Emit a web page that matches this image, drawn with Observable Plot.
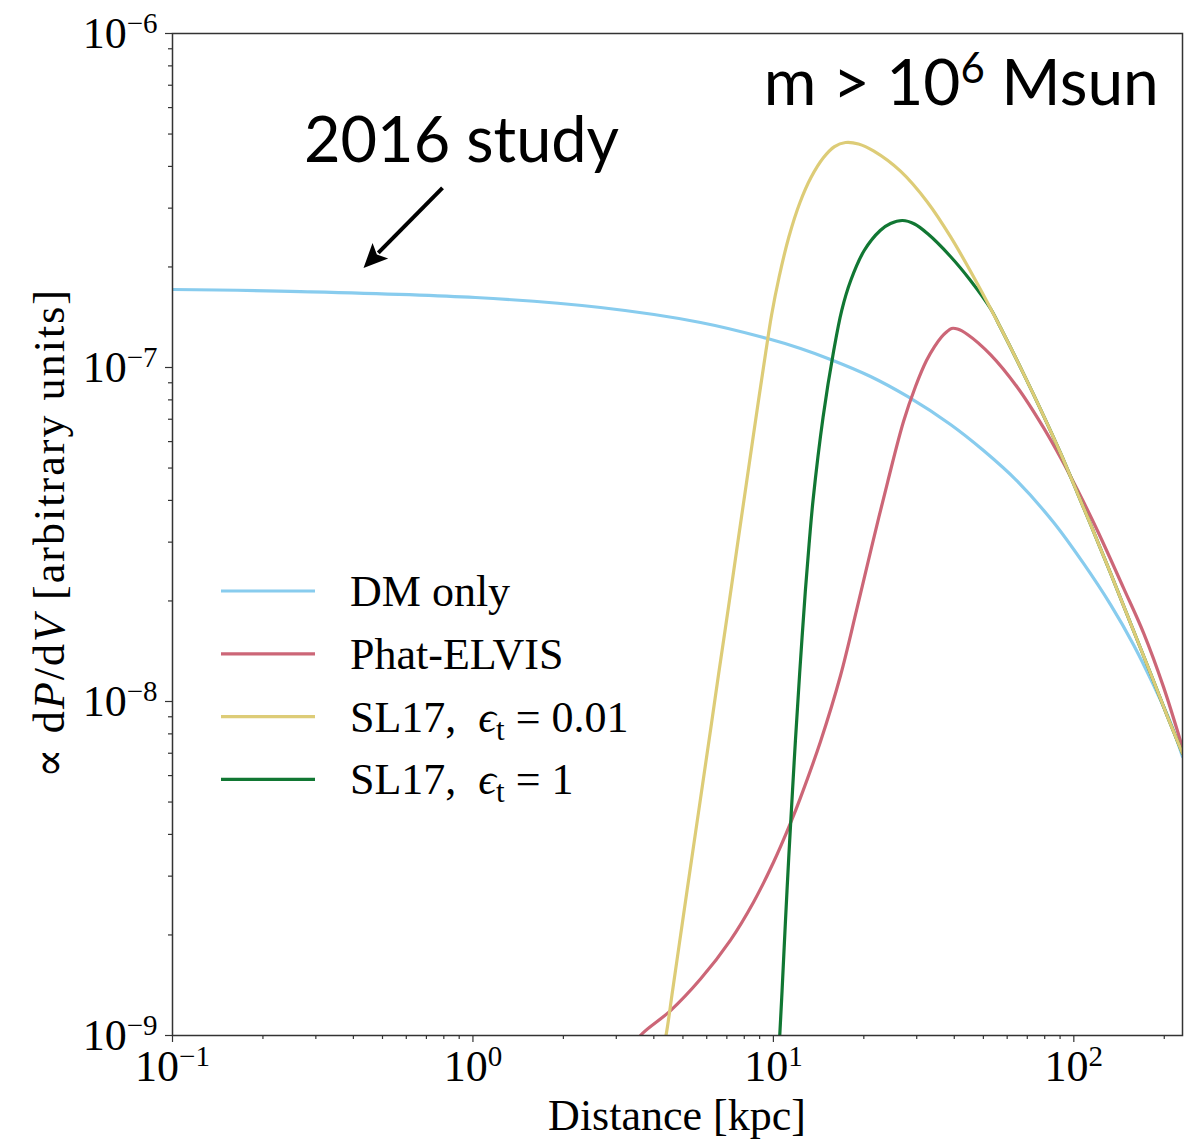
<!DOCTYPE html>
<html><head><meta charset="utf-8">
<script src="https://cdn.jsdelivr.net/npm/d3@7"></script>
<script src="https://cdn.jsdelivr.net/npm/@observablehq/plot@0.6"></script>
<style>
html,body{margin:0;padding:0;background:#fff;}
#chart{width:1201px;height:1143px;}
</style></head>
<body><div id="chart"></div>
<script>
// ---------- data ----------
const seriesNames = ["DM only", "Phat-ELVIS", "SL17, eps_t = 0.01", "SL17, eps_t = 1"];
const seriesColors = ["#88CCEE", "#CC6677", "#DDCC77", "#117733"];

const dmDist = [0.1, 0.2667, 1.020, 2.659, 5.720, 9.559, 12.31, 15.49, 21.06, 27.95, 38.86, 50.06, 64.93, 85.56, 107.7, 132.5, 158.0, 184.2, 209.8, 230];
const dmVal  = [1.712e-7, 1.688e-7, 1.620e-7, 1.512e-7, 1.364e-7, 1.221e-7, 1.140e-7, 1.057e-7, 9.40e-8, 8.19e-8, 6.75e-8, 5.64e-8, 4.56e-8, 3.44e-8, 2.59e-8, 1.95e-8, 1.48e-8, 1.12e-8, 8.65e-9, 6.84e-9];

const phatDist = [3.476, 3.612, 4.546, 5.720, 7.200, 8.587, 10.01, 11.40, 12.31, 14.35, 16.73, 18.91, 21.21, 23.98, 27.11, 29.72, 32.33, 34.38, 36.27, 37.69, 39.16, 41.01, 44.27, 52.80, 64.94, 79.26, 90.28, 102.8, 119.9, 146.3, 170.6, 198.8, 230];
const phatVal  = [9.33e-10, 1.0e-9, 1.187e-9, 1.476e-9, 1.931e-9, 2.507e-9, 3.302e-9, 4.324e-9, 5.156e-9, 7.592e-9, 1.196e-8, 1.873e-8, 2.891e-8, 4.525e-8, 6.892e-8, 8.773e-8, 1.049e-7, 1.155e-7, 1.234e-7, 1.277e-7, 1.309e-7, 1.304e-7, 1.256e-7, 1.093e-7, 8.713e-8, 6.609e-8, 5.380e-8, 4.306e-8, 3.246e-8, 2.189e-8, 1.605e-8, 1.106e-8, 7.27e-9];

const sl001Dist = [4.275, 4.391, 4.619, 4.975, 5.355, 5.773, 6.223, 6.576, 7.085, 7.629, 8.131, 8.922, 9.450, 9.856, 10.44, 11.27, 12.26, 13.34, 14.69, 15.97, 17.38, 19.20, 21.54, 26.49, 32.58, 38.86, 47.80, 57.00, 67.99, 79.26, 90.28, 102.8, 113.6, 132.5, 154.4, 180.0, 205.0, 230];
const sl001Val  = [9.02e-10, 1.0e-9, 1.364e-9, 2.165e-9, 3.411e-9, 5.414e-9, 8.595e-9, 1.213e-8, 1.912e-8, 3.034e-8, 4.494e-8, 7.961e-8, 1.124e-7, 1.431e-7, 1.860e-7, 2.468e-7, 3.120e-7, 3.706e-7, 4.253e-7, 4.587e-7, 4.716e-7, 4.668e-7, 4.451e-7, 3.871e-7, 3.126e-7, 2.465e-7, 1.779e-7, 1.317e-7, 9.588e-8, 7.178e-8, 5.546e-8, 4.209e-8, 3.395e-8, 2.422e-8, 1.716e-8, 1.215e-8, 9.01e-9, 6.99e-9];

const sl1Dist = [10.44, 10.50, 10.69, 10.96, 11.25, 11.58, 11.84, 12.23, 12.78, 13.18, 13.55, 14.63, 15.88, 16.88, 18.09, 20.06, 22.68, 24.54, 26.90, 29.49, 32.58, 38.86, 45.30, 52.80, 57.00, 67.99, 79.26, 90.28, 102.8, 113.6, 132.5, 154.4, 180.0, 205.0, 230];
const sl1Val  = [9.02e-10, 1.0e-9, 1.364e-9, 2.165e-9, 3.411e-9, 5.414e-9, 7.64e-9, 1.213e-8, 2.150e-8, 3.034e-8, 3.997e-8, 7.084e-8, 1.124e-7, 1.481e-7, 1.822e-7, 2.240e-7, 2.572e-7, 2.699e-7, 2.755e-7, 2.690e-7, 2.518e-7, 2.150e-7, 1.822e-7, 1.502e-7, 1.317e-7, 9.588e-8, 7.178e-8, 5.546e-8, 4.209e-8, 3.395e-8, 2.422e-8, 1.716e-8, 1.215e-8, 9.01e-9, 6.99e-9];

const xMajorTicks = [0.1, 1, 10, 100];
const xMajorLabels = ["10^{−1}", "10^{0}", "10^{1}", "10^{2}"];
const yMajorTicks = [1e-9, 1e-8, 1e-7, 1e-6];
const yMajorLabels = ["10^{−9}", "10^{−8}", "10^{−7}", "10^{−6}"];
const xMinorTicks = [0.2,0.3,0.4,0.5,0.6,0.7,0.8,0.9, 2,3,4,5,6,7,8,9, 20,30,40,50,60,70,80,90, 200];
const yMinorTicks = [2e-9,3e-9,4e-9,5e-9,6e-9,7e-9,8e-9,9e-9, 2e-8,3e-8,4e-8,5e-8,6e-8,7e-8,8e-8,9e-8, 2e-7,3e-7,4e-7,5e-7,6e-7,7e-7,8e-7,9e-7];

const xLabelText = "Distance [kpc]";
const studyText = "2016 study";
const studyPos = [0.274, 4.12e-7];
const massText = "m > 10^{6} Msun";
const massPos = [191.8, 6.10e-7];
const arrowFrom = [0.795, 3.44e-7];
const arrowTo = [0.434, 1.98e-7];

// ---------- build ----------
const rows = (xs, ys) => xs.map((d, i) => ({d, v: ys[i]}));
const SERIF = "'Liberation Serif', 'DejaVu Serif', serif";
const SANS = "Lato, 'Noto Sans', sans-serif";

const lineMark = (xs, ys, c) => Plot.line(rows(xs, ys), {x: "d", y: "v", stroke: c, strokeWidth: 3.2, curve: "catmull-rom", clip: true});

const plot = Plot.plot({
  width: 1201, height: 1143,
  marginLeft: 172, marginRight: 19, marginTop: 33, marginBottom: 108,
  style: {background: "#fff", fontFamily: SERIF, fontSize: "44px", color: "#000", overflow: "visible"},
  x: {type: "log", domain: [0.1, 230], axis: null},
  y: {type: "log", domain: [1e-9, 1e-6], axis: null},
  marks: [
    Plot.axisX(xMinorTicks, {tickSize: 4, tickFormat: () => "", stroke: "#333", strokeWidth: 1.2, label: null}),
    Plot.axisX(xMajorTicks, {tickSize: 7, tickPadding: 7, tickFormat: d => xMajorLabels[xMajorTicks.indexOf(d)], stroke: "#333", strokeWidth: 1.2, fontSize: 44, fill: "#000", label: null}),
    Plot.axisY(yMinorTicks, {tickSize: 4, tickFormat: () => "", stroke: "#333", strokeWidth: 1.2, label: null}),
    Plot.axisY(yMajorTicks, {tickSize: 7, tickPadding: 8, tickFormat: d => yMajorLabels[yMajorTicks.indexOf(d)], stroke: "#333", strokeWidth: 1.2, fontSize: 44, fill: "#000", label: null}),
    lineMark(dmDist, dmVal, seriesColors[0]),
    lineMark(phatDist, phatVal, seriesColors[1]),
    lineMark(sl1Dist, sl1Val, seriesColors[3]),
    lineMark(sl001Dist, sl001Val, seriesColors[2]),
    Plot.frame({stroke: "#333", strokeWidth: 1.5}),
    Plot.text([studyText], {x: () => studyPos[0], y: () => studyPos[1], text: d => d, textAnchor: "start", lineAnchor: "bottom", fontFamily: SANS, fontSize: 63, fill: "#000"}),
    Plot.text([massText], {x: () => massPos[0], y: () => massPos[1], text: d => d, textAnchor: "end", lineAnchor: "bottom", fontFamily: SANS, fontSize: 64, fill: "#000"})
  ]
});
document.getElementById("chart").appendChild(plot);

const svg = d3.select(plot);

// superscripts: "a^{b}c"
svg.selectAll("text").each(function () {
  const t = this.textContent;
  const m = t.match(/^(.*)\^\{([^}]*)\}(.*)$/);
  if (!m) return;
  const fs = parseFloat(getComputedStyle(this).fontSize) || 44;
  const shift = Math.round(fs * 0.35);
  const s = d3.select(this);
  s.text(null);
  s.append("tspan").text(m[1]);
  s.append("tspan").attr("dy", -shift).attr("font-size", Math.round(fs * 0.66)).text(m[2]);
  if (m[3]) s.append("tspan").attr("dy", shift).text(m[3]);
});

// scales for annotations
const xS = plot.scale("x"), yS = plot.scale("y");
const sx = d3.scaleLog().domain(xS.domain).range(xS.range);
const sy = d3.scaleLog().domain(yS.domain).range(yS.range);

// arrow
{
  const tx = sx(arrowFrom[0]), ty = sy(arrowFrom[1]);
  const hx = sx(arrowTo[0]), hy = sy(arrowTo[1]);
  const L = Math.hypot(hx - tx, hy - ty), ux = (hx - tx) / L, uy = (hy - ty) / L;
  const headLen = 24, headHalf = 11;
  const bx = hx - ux * headLen, by = hy - uy * headLen;
  const g = svg.append("g").attr("aria-label", "arrow");
  g.append("line").attr("x1", tx).attr("y1", ty).attr("x2", bx + ux * 3).attr("y2", by + uy * 3)
    .attr("stroke", "#000").attr("stroke-width", 4);
  g.append("path").attr("d", `M${hx},${hy}L${bx - uy * headHalf},${by + ux * headHalf}L${bx + ux * 5},${by + uy * 5}L${bx + uy * headHalf},${by - ux * headHalf}Z`)
    .attr("fill", "#000");
}

// axis labels
svg.append("text").attr("x", (xS.range[0] + xS.range[1]) / 2).attr("y", 1130)
  .attr("text-anchor", "middle").attr("font-family", SERIF).attr("font-size", 44).attr("fill", "#000")
  .text(xLabelText);

{
  const yl = svg.append("text").attr("transform", `translate(64,${(yS.range[0] + yS.range[1]) / 2}) rotate(-90)`)
    .attr("text-anchor", "middle").attr("font-family", SERIF).attr("font-size", 44).attr("fill", "#000")
    .attr("textLength", 488).attr("lengthAdjust", "spacing");
  yl.append("tspan").text("∝ d");
  yl.append("tspan").attr("font-style", "italic").text("P");
  yl.append("tspan").text("/d");
  yl.append("tspan").attr("font-style", "italic").text("V");
  yl.append("tspan").text(" [arbitrary units]");
}

// legend
{
  const lg = svg.append("g").attr("aria-label", "legend").attr("font-family", SERIF).attr("font-size", 44)
    .attr("fill", "#000").attr("text-anchor", "start");
  const y0 = 591, dy = 62.8;
  seriesNames.forEach((name, i) => {
    const y = y0 + i * dy;
    lg.append("line").attr("x1", 221).attr("x2", 315).attr("y1", y).attr("y2", y)
      .attr("stroke", seriesColors[i]).attr("stroke-width", 3.2);
    const t = lg.append("text").attr("x", 350).attr("y", y + 15).attr("text-anchor", "start");
    const m = name.match(/^(SL17,) eps_t = (.*)$/);
    if (m) {
      t.append("tspan").text(m[1] + "\u00a0\u00a0");
      t.append("tspan").attr("font-style", "italic").text("ϵ");
      t.append("tspan").attr("font-size", 31).attr("dy", 8).text("t");
      t.append("tspan").attr("dy", -8).text(" = " + m[2]);
    } else {
      t.text(name);
    }
  });
}
</script>
</body></html>
